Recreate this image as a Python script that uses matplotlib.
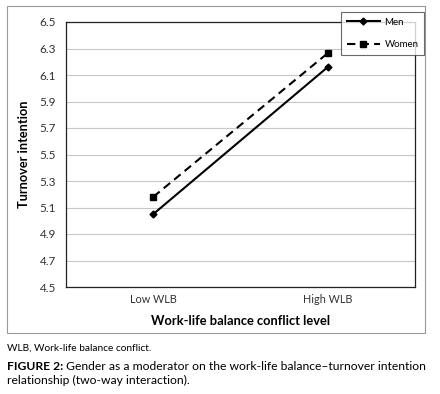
import matplotlib.pyplot as plt
from matplotlib.patches import Rectangle

categories = ["Low WLB", "High WLB"]
men = [5.05, 6.16]
women = [5.18, 6.265]
yticks = [4.5, 4.7, 4.9, 5.1, 5.3, 5.5, 5.7, 5.9, 6.1, 6.3, 6.5]

plt.rcParams['font.family'] = ['Lato', 'DejaVu Sans']

fig = plt.figure(figsize=(4.4, 3.94), dpi=100)
ax = fig.add_axes([66 / 440, 1 - 287 / 394, 349 / 440, 265 / 394])

x = range(len(categories))
ax.plot(x, men, color='black', lw=1.5, marker='D', ms=3.5, label='Men')
ax.plot(x, women, color='black', lw=1.5, ls=(0, (4, 2.5)), marker='s', ms=5, label='Women')

ax.set_xlim(-0.5, 1.5)
ax.set_ylim(4.5, 6.5)
ax.set_yticks(yticks)
ax.set_yticklabels([f"{v:.1f}" for v in yticks], fontsize=8.5, color='#333333')
ax.set_xticks(list(x))
ax.set_xticklabels(categories, fontsize=7.8, color='#333333')
ax.tick_params(axis='y', length=0, pad=7)
ax.tick_params(axis='x', length=0, pad=5)
ax.grid(axis='y', color='#c8c8c8', lw=0.8)
ax.set_axisbelow(True)
for s in ax.spines.values():
    s.set_color('#222222')
    s.set_linewidth(0.9)

ax.set_ylabel("Turnover intention", fontsize=9.2, fontweight='bold', labelpad=7)
ax.set_xlabel("Work-life balance conflict level", fontsize=9.3, fontweight='bold', labelpad=7)

leg = fig.legend(loc='upper left', bbox_to_anchor=(336 / 440, 1 - 7 / 394), fontsize=7,
                 frameon=True, fancybox=False, edgecolor='#444444', handlelength=3.4,
                 borderpad=0.6, labelspacing=1.4, handletextpad=0.5)
leg.get_frame().set_linewidth(0.8)

fig.patches.append(Rectangle((7 / 440, 1 - 333 / 394), 418 / 440, 327 / 394,
                             transform=fig.transFigure, fill=False, edgecolor='#999999', lw=0.8))

fig.text(7 / 440, 1 - 348 / 394, "WLB, Work-life balance conflict.", fontsize=7.3, va='center')
lab = fig.text(7 / 440, 1 - 366 / 394, "FIGURE 2:", fontsize=8.75, fontweight='bold', va='center')
fig.canvas.draw()
bb = lab.get_window_extent()
fig.text((bb.x1 + 3) / 440, 1 - 366 / 394,
         "Gender as a moderator on the work-life balance\u2013turnover intention",
         fontsize=8.75, va='center')
fig.text(7 / 440, 1 - 380 / 394, "relationship (two-way interaction).", fontsize=8.75, va='center')

fig.savefig("out.png", dpi=100)
